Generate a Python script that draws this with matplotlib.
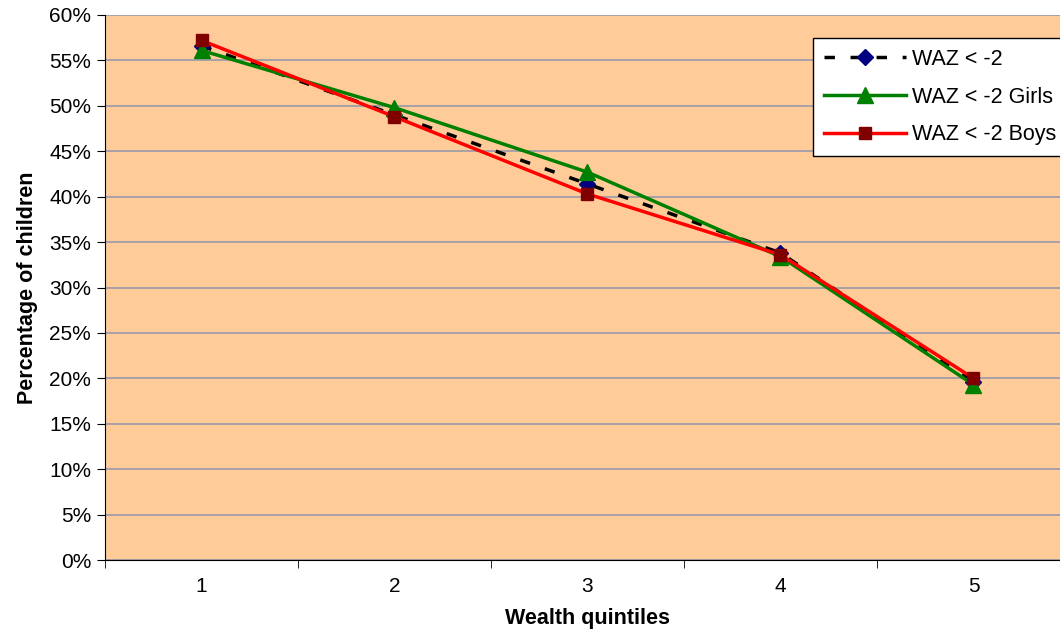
import matplotlib
matplotlib.use("Agg")
import matplotlib.pyplot as plt
from matplotlib.ticker import FixedLocator, PercentFormatter

quintiles = [1, 2, 3, 4, 5]
waz_all = [56.6, 49.0, 41.4, 33.8, 19.6]
waz_girls = [56.1, 49.8, 42.7, 33.4, 19.3]
waz_boys = [57.2, 48.8, 40.3, 33.6, 20.0]
labels = ["WAZ < -2", "WAZ < -2 Girls", "WAZ < -2 Boys"]

plt.rcParams['font.family'] = ['Liberation Sans', 'DejaVu Sans']

fig = plt.figure(figsize=(10.6, 6.34), dpi=100)
ax = fig.add_axes([105/1060, 74/634, 965/1060, 545/634])
ax.set_facecolor('#FFCC99')

ax.plot(quintiles, waz_all, color='black', lw=2.5, ls=(0, (3, 4.5)),
        marker='D', markersize=8, markerfacecolor='#000080', markeredgecolor='#000080',
        label=labels[0], zorder=3)
ax.plot(quintiles, waz_girls, color='#008000', lw=2.5,
        marker='^', markersize=11, markerfacecolor='#008000', markeredgecolor='#008000',
        label=labels[1], zorder=4)
ax.plot(quintiles, waz_boys, color='#FF0000', lw=2.5,
        marker='s', markersize=8, markerfacecolor='#800000', markeredgecolor='#800000',
        label=labels[2], zorder=5)

ax.set_xlim(0.5, 5.5)
ax.set_ylim(0, 60)
ax.yaxis.set_major_locator(FixedLocator(range(0, 61, 5)))
ax.yaxis.set_major_formatter(PercentFormatter(decimals=0))
ax.grid(axis='y', color='#9999AA', lw=1.2)
ax.set_axisbelow(True)

ax.set_xticks(quintiles)
ax.set_xticklabels([str(q) for q in quintiles])
ax.xaxis.set_minor_locator(FixedLocator([0.5, 1.5, 2.5, 3.5, 4.5, 5.5]))
ax.tick_params(axis='x', which='major', length=0, pad=12, labelsize=15)
ax.tick_params(axis='x', which='minor', length=6, direction='out', color='black')
ax.tick_params(axis='y', length=6, direction='out', labelsize=15, pad=4)

for s in ['top', 'right']:
    ax.spines[s].set_visible(False)
ax.spines['left'].set_color('black')
ax.spines['bottom'].set_color('black')

ax.set_xlabel('Wealth quintiles', fontsize=15.5, fontweight='bold', labelpad=9)
ax.set_ylabel('Percentage of children', fontsize=15.5, fontweight='bold', labelpad=8)

leg = fig.legend(loc='upper left', bbox_to_anchor=(813/1060, 1 - 38/634),
                 fontsize=15.5, frameon=True, fancybox=False, handlelength=3.8,
                 borderpad=0.5, labelspacing=0.78, handletextpad=0.3, borderaxespad=0)
leg.get_frame().set_edgecolor('black')
leg.get_frame().set_facecolor('white')
leg.get_frame().set_alpha(1)
leg.get_frame().set_linewidth(1)

fig.savefig('out.png', dpi=100, facecolor='white')
